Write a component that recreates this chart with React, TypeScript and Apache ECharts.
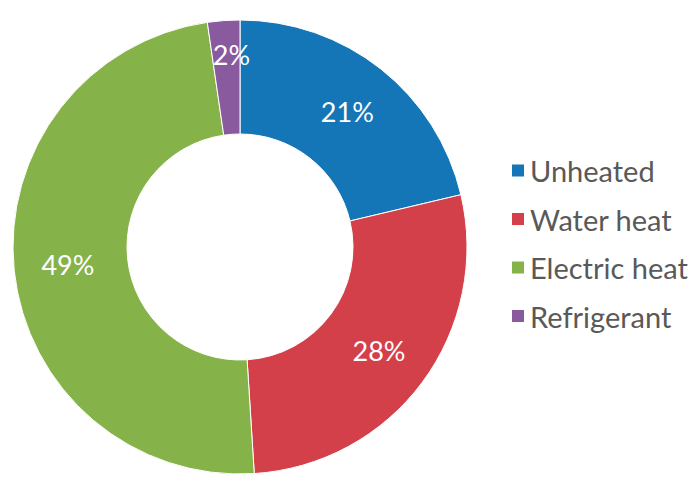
import React, { useEffect, useRef } from "react";
import * as echarts from "echarts";

const categories = ["Unheated", "Water heat", "Electric heat", "Refrigerant"];
const values = [21.3, 27.7, 48.7, 2.3];
const colors = ["#1476b6", "#d4404a", "#86b24a", "#8a5a9f"];

export default function App() {
  const ref = useRef<HTMLDivElement>(null);
  useEffect(() => {
    const chart = echarts.init(ref.current!, null, { renderer: "svg" });
    chart.setOption({
      animation: false,
      color: colors,
      legend: {
        orient: "vertical",
        left: 505,
        top: 151,
        icon: "rect",
        itemWidth: 14,
        itemHeight: 14,
        itemGap: 19.5,
        data: categories,
        textStyle: { fontFamily: "Lato", fontSize: 29, color: "#595959" },
      },
      series: [
        {
          type: "pie",
          center: [240, 247],
          radius: [113, 227],
          startAngle: 90,
          clockwise: true,
          avoidLabelOverlap: false,
          itemStyle: { borderColor: "#ffffff", borderWidth: 1 },
          label: {
            show: true,
            position: "inside",
            color: "#ffffff",
            fontFamily: "Lato",
            fontSize: 27,
            formatter: (p: any) => Math.round(p.value) + "%",
          },
          labelLine: { show: false },
          data: categories.map((c, i) =>
            i === 3
              ? {
                  name: c,
                  value: values[i],
                  label: {
                    formatter: (p: any) => "{a|" + Math.round(p.value) + "%}\n{b|}",
                    padding: [0, 0, 0, 8],
                    rich: {
                      a: { color: "#ffffff", fontFamily: "Lato", fontSize: 27, lineHeight: 30 },
                      b: { lineHeight: 40, fontSize: 10 },
                    },
                  },
                }
              : { name: c, value: values[i] }
          ),
        },
      ],
    });
    return () => chart.dispose();
  }, []);
  return <div ref={ref} style={{ width: 700, height: 499, position: "absolute", left: 0, top: 0 }} />;
}
